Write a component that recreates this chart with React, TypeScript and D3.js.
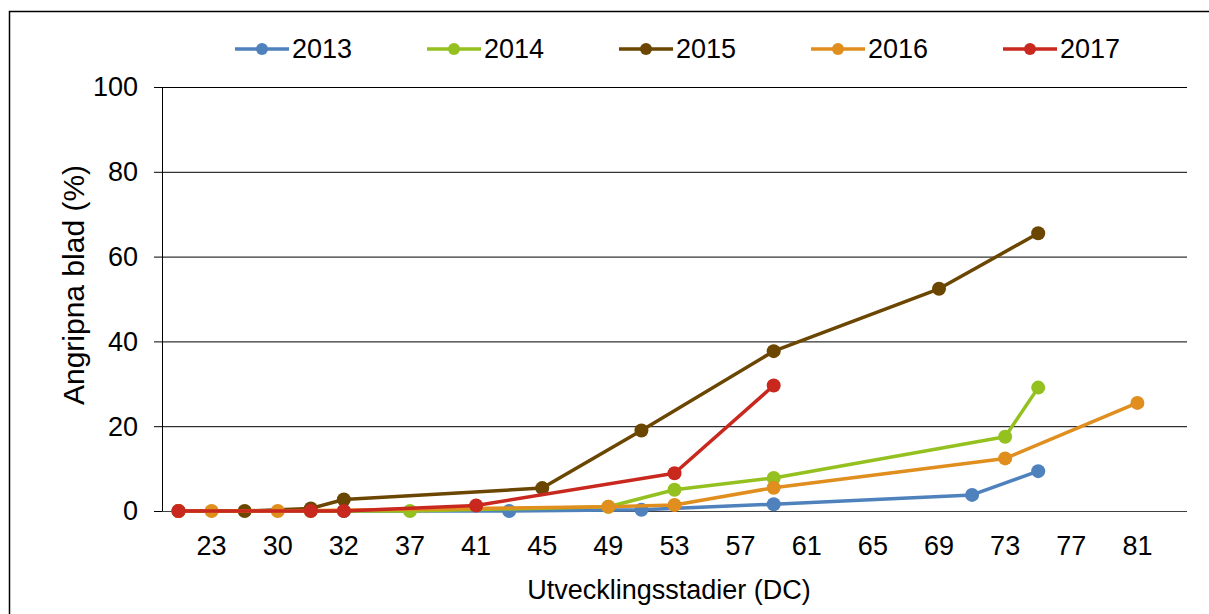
import React from "react";
import * as d3 from "d3";

// Development stages (DC) on the category axis; only every other label is shown
const stages = [
  "21", "23", "25", "30", "31", "32", "33", "37", "39", "41", "43", "45", "47", "49", "51", "53",
  "55", "57", "59", "61", "63", "65", "67", "69", "71", "73", "75", "77", "79", "81", "83",
];
const shownStages = ["23", "30", "32", "37", "41", "45", "49", "53", "57", "61", "65", "69", "73", "77", "81"];

const years = ["2013", "2014", "2015", "2016", "2017"];
const colors = ["#4F81BD", "#94C11F", "#6B4600", "#E08E1E", "#C9281E"];

// [stage, % attacked leaves]
const s2013: [string, number][] = [["21", 0], ["32", 0], ["43", 0], ["51", 0.3], ["59", 1.6], ["71", 3.8], ["75", 9.4]];
const s2014: [string, number][] = [["31", 0], ["37", 0], ["49", 1.0], ["53", 5.0], ["59", 7.8], ["73", 17.5], ["75", 29.1]];
const s2015: [string, number][] = [["21", 0], ["25", 0], ["31", 0.6], ["32", 2.7], ["45", 5.4], ["51", 19.0], ["59", 37.7], ["69", 52.4], ["75", 65.5]];
const s2016: [string, number][] = [["21", 0], ["23", 0], ["30", 0], ["49", 1.0], ["53", 1.4], ["59", 5.5], ["73", 12.4], ["81", 25.5]];
const s2017: [string, number][] = [["21", 0], ["31", 0], ["32", 0], ["41", 1.3], ["53", 8.9], ["59", 29.6]];
const seriesData = [s2013, s2014, s2015, s2016, s2017];

const yTicks = [0, 20, 40, 60, 80, 100];

const W = 1209;
const H = 614;
const FONT = "'Liberation Sans', Arial, sans-serif";
const FS = 27;

export default function App() {
  const x = d3.scaleBand<string>().domain(stages).range([162, 1187]).padding(0);
  const y = d3.scaleLinear().domain([0, 100]).range([511, 87]);
  const cx = (s: string) => (x(s) as number) + x.bandwidth() / 2;
  const line = d3
    .line<[string, number]>()
    .x((d) => cx(d[0]))
    .y((d) => y(d[1]));

  return (
    <svg
      width={W}
      height={H}
      style={{ position: "absolute", left: 0, top: 0, background: "#fff" }}
      fontFamily={FONT}
    >
      <rect x={9.5} y={11.5} width={1215} height={620} fill="#fff" stroke="#000" strokeWidth={1.5} />
      {/* gridlines */}
      {yTicks.slice(1).map((t) => (
        <line key={t} x1={162} x2={1187} y1={y(t) + 0.5} y2={y(t) + 0.5} stroke="#000" strokeWidth={1} />
      ))}
      {/* y axis */}
      <line x1={162.5} x2={162.5} y1={y(100)} y2={y(0)} stroke="#000" strokeWidth={1} />
      {yTicks.map((t) => (
        <g key={t}>
          <line x1={154} x2={162} y1={y(t) + 0.5} y2={y(t) + 0.5} stroke="#000" strokeWidth={1} />
          <text x={138} y={y(t)} dy="0.35em" textAnchor="end" fontSize={FS} fill="#000">
            {t}
          </text>
        </g>
      ))}
      {/* x axis */}
      <line x1={162} x2={1187} y1={y(0) + 0.5} y2={y(0) + 0.5} stroke="#404040" strokeWidth={1} />
      {shownStages.map((s) => (
        <text key={s} x={cx(s)} y={555} textAnchor="middle" fontSize={FS} fill="#000">
          {s}
        </text>
      ))}
      {/* series */}
      {seriesData.map((data, i) => (
        <g key={years[i]}>
          <path d={line(data) as string} fill="none" stroke={colors[i]} strokeWidth={3.5} strokeLinejoin="round" />
          {data.map((d) => (
            <circle key={d[0]} cx={cx(d[0])} cy={y(d[1])} r={7} fill={colors[i]} />
          ))}
        </g>
      ))}
      {/* legend */}
      {years.map((yr, i) => (
        <g key={yr} transform={`translate(${235 + 192 * i},49)`}>
          <line x1={0} x2={54} y1={0} y2={0} stroke={colors[i]} strokeWidth={3.5} />
          <circle cx={27} cy={0} r={6} fill={colors[i]} />
          <text x={57} y={0} dy="0.35em" fontSize={FS} fill="#000">
            {yr}
          </text>
        </g>
      ))}
      {/* axis titles */}
      <text transform="translate(84,285) rotate(-90)" textAnchor="middle" fontSize={30} fill="#000">
        Angripna blad (%)
      </text>
      <text x={669} y={599} textAnchor="middle" fontSize={FS} fill="#000">
        Utvecklingsstadier (DC)
      </text>
    </svg>
  );
}
